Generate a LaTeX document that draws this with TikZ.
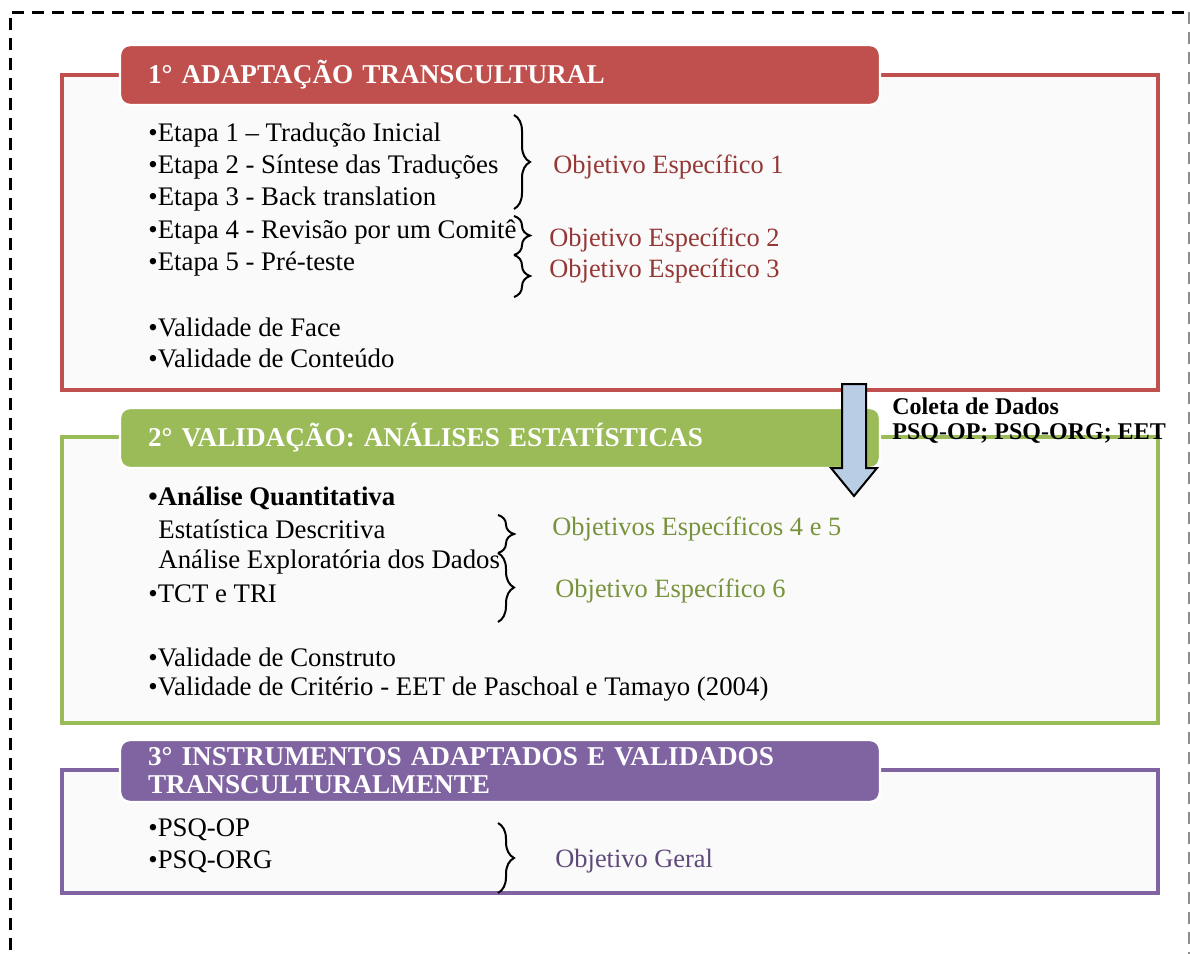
\documentclass[tikz,border=0pt]{standalone}
\usepackage{fontspec}
\setmainfont{Liberation Serif}
\usetikzlibrary{%
    decorations.pathreplacing,
    positioning
}

\definecolor{adaptRed}{HTML}{C0504D}
\definecolor{validGreen}{HTML}{9BBB59}
\definecolor{instrPurple}{HTML}{8064A2}
\definecolor{goalRed}{HTML}{953735}
\definecolor{goalGreen}{HTML}{77933C}
\definecolor{goalPurple}{HTML}{5F497A}
\definecolor{arrowBlue}{HTML}{B9CDE5}

\newcommand{\ItemFont}{\fontsize{13.4}{15}\selectfont}
\newcommand{\GoalFont}{\fontsize{13.2}{15}\selectfont}
\newcommand{\HeadFont}{\bfseries\fontsize{13.6}{14}\selectfont}

\tikzset{
    frame/.style={line width=2pt, fill=black!2},
    header/.style={draw=white, line width=1.2pt, rounded corners=5pt,
        text=white, font=\HeadFont, minimum width=380pt, minimum height=30pt,
        text width=352pt, inner xsep=14pt, align=left},
    item/.style={anchor=west, inner sep=0pt, font=\ItemFont},
    goal/.style={anchor=west, inner sep=0pt, font=\GoalFont},
    curly/.style={decorate, decoration={brace, amplitude=8pt}, line width=1pt}
}

\begin{document}
\begin{tikzpicture}[x=0.5pt, y=-0.5pt]
    \useasboundingbox (0,0) rectangle (1190,954);
    \clip (0,0) rectangle (1190,954);

    % outer dashed border
    \draw[line width=1.5pt, dash pattern=on 6pt off 4pt]
        (10,970) -- (10,12) -- (1189,12);
    \draw[black!45, line width=1.5pt, dash pattern=on 6pt off 4pt]
        (1189,12) -- (1189,970);

    % frames
    \draw[frame, draw=adaptRed]    (62,75)  rectangle (1158,390);
    \draw[frame, draw=validGreen]  (62,437) rectangle (1158,723);
    \draw[frame, draw=instrPurple] (62,770) rectangle (1158,893);

    % headers
    \node[header, fill=adaptRed]    (h1) at (500,75)  {1° ADAPTAÇÃO TRANSCULTURAL};
    \node[header, fill=validGreen]  (h2) at (500,438) {2° VALIDAÇÃO: ANÁLISES ESTATÍSTICAS};
    \node[header, fill=instrPurple, minimum height=31pt] (h3) at (500,771)
        {3° INSTRUMENTOS ADAPTADOS E VALIDADOS\\TRANSCULTURALMENTE};

    % data collection arrow
    \draw[fill=arrowBlue, line width=1pt]
        (842,384) -- (866,384) -- (866,468) -- (877,468) -- (854,496)
        -- (831,468) -- (842,468) -- cycle;
    \node[anchor=west, inner sep=0pt, align=left,
          font=\bfseries\fontsize{12}{12.5}\selectfont] (coleta) at (892,421)
        {Coleta de Dados\\PSQ-OP; PSQ-ORG; EET};

    % block 1
    \node[item] (e1) at (148,135) {•Etapa 1 – Tradução Inicial};
    \node[item] (e2) at (148,167) {•Etapa 2 - Síntese das Traduções};
    \node[item] (e3) at (148,199) {•Etapa 3 - Back translation};
    \node[item] (e4) at (148,232) {•Etapa 4 - Revisão por um Comitê};
    \node[item] (e5) at (148,264) {•Etapa 5 - Pré-teste};
    \node[item] (vf) at (148,327) {•Validade de Face};
    \node[item] (vc) at (148,358) {•Validade de Conteúdo};

    \draw[curly] (514,115) -- (514,209);
    \draw[curly] (514,216) -- (514,255);
    \draw[curly] (514,255) -- (514,297);

    \node[goal, text=goalRed] (g1) at (553,167) {Objetivo Específico 1};
    \node[goal, text=goalRed] (g2) at (549,240) {Objetivo Específico 2};
    \node[goal, text=goalRed] (g3) at (549,271) {Objetivo Específico 3};

    % block 2
    \node[item, font=\ItemFont\bfseries] (aq) at (148,498) {•Análise Quantitativa};
    \node[item] (ed)  at (158,529) {Estatística Descritiva};
    \node[item] (ae)  at (158,562) {Análise Exploratória dos Dados};
    \node[item] (tct) at (148,594) {•TCT e TRI};
    \node[item] (vco) at (148,657) {•Validade de Construto};
    \node[item] (vcr) at (148,689) {•Validade de Critério - EET de Paschoal e Tamayo (2004)};

    \draw[curly] (498,515) -- (498,553);
    \draw[curly] (498,553) -- (498,622);

    \node[goal, text=goalGreen] (g4) at (552,529) {Objetivos Específicos 4 e 5};
    \node[goal, text=goalGreen] (g5) at (555,591) {Objetivo Específico 6};

    % block 3
    \node[item] (op)  at (148,830) {•PSQ-OP};
    \node[item] (org) at (148,862) {•PSQ-ORG};

    \draw[curly] (498,823) -- (498,893);

    \node[goal, text=goalPurple] (g6) at (555,861) {Objetivo Geral};
\end{tikzpicture}
\end{document}
